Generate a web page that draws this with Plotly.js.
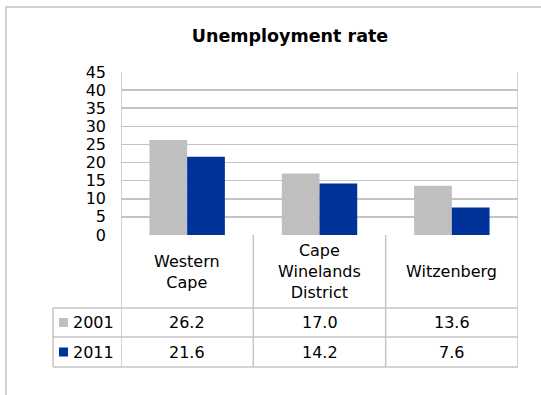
<!DOCTYPE html>
<html>
<head>
<meta charset="utf-8">
<script src="https://cdn.plot.ly/plotly-3.0.1.min.js"></script>
<style>html,body{margin:0;padding:0;background:#fff;}#chart{width:541px;height:395px;}</style>
</head>
<body>
<div id="chart"></div>
<script>
// ---- data ----
var categories = ["Western Cape", "Cape Winelands District", "Witzenberg"];
var categoryLabels = ["Western<br>Cape", "Cape<br>Winelands<br>District", "Witzenberg"];
var seriesNames = ["2001", "2011"];
var values2001 = [26.2, 17.0, 13.6];
var values2011 = [21.6, 14.2, 7.6];
var yTicks = [0, 5, 10, 15, 20, 25, 30, 35, 40, 45];

(function () {
// ---- layout geometry (pixels) ----
var W = 541, H = 395;
var L = 121, R = 518, T = 72, B = 235;
var colors = ["#BFBFBF", "#003399"];
var lineCol = "#C4C4C4";
var font = "DejaVu Sans, Arial, sans-serif";

function px(xp) { return (xp - L) / (R - L); }
function py(yp) { return (B - yp) / (B - T); }

var seriesValues = [values2001, values2011];
var traces = seriesNames.map(function (name, i) {
  return {
    type: "bar",
    name: name,
    x: categories,
    y: seriesValues[i],
    marker: { color: colors[i], line: { width: 0 } },
    hoverinfo: "skip"
  };
});

// table geometry
var headerBottom = 308, row1Bottom = 337, row2Bottom = 367, legendLeft = 53;
var rowCenters = [(headerBottom + row1Bottom) / 2, (row1Bottom + row2Bottom) / 2];
var lineStyle = { color: lineCol, width: 1.5 };
var shapes = [];
// outer chart frame
shapes.push({ type: "rect", xref: "paper", yref: "paper", x0: px(6), x1: px(560), y0: py(420), y1: py(7),
  line: { color: "#D0D0D0", width: 2 }, layer: "below" });
// vertical column borders
for (var k = 0; k <= categories.length; k++) {
  var yTop = (k === 0 || k === categories.length) ? 1 : 0;
  shapes.push({ type: "line", xref: "x", yref: "paper", x0: k - 0.5, x1: k - 0.5, y0: yTop, y1: py(row2Bottom), line: lineStyle });
}
// legend column left border
shapes.push({ type: "line", xref: "paper", yref: "paper", x0: px(legendLeft), x1: px(legendLeft), y0: py(headerBottom), y1: py(row2Bottom), line: lineStyle });
// horizontal row borders
[headerBottom, row1Bottom, row2Bottom].forEach(function (yy) {
  shapes.push({ type: "line", xref: "paper", yref: "paper", x0: px(legendLeft), x1: 1, y0: py(yy), y1: py(yy), line: lineStyle });
});
// legend swatches
rowCenters.forEach(function (c, i) {
  shapes.push({ type: "rect", xref: "paper", yref: "paper", x0: px(59), x1: px(68), y0: py(c - 4.5), y1: py(c + 4.5),
    fillcolor: colors[i], line: { width: 0 } });
});

var annotations = [];
var tfont = { family: font, size: 16, color: "#000" };
categories.forEach(function (cat, j) {
  annotations.push({ xref: "x", yref: "paper", x: j, y: py((B + headerBottom) / 2), text: categoryLabels[j],
    showarrow: false, xanchor: "center", yanchor: "middle", align: "center", font: tfont });
  seriesValues.forEach(function (vals, i) {
    annotations.push({ xref: "x", yref: "paper", x: j, y: py(rowCenters[i]), text: vals[j].toFixed(1),
      showarrow: false, xanchor: "center", yanchor: "middle", font: tfont });
  });
});
seriesNames.forEach(function (name, i) {
  annotations.push({ xref: "paper", yref: "paper", x: px(71), y: py(rowCenters[i]), text: name,
    showarrow: false, xanchor: "left", yanchor: "middle", font: tfont });
});

var layout = {
  width: W, height: H,
  margin: { l: L, r: W - R, t: T, b: H - B, pad: 0 },
  paper_bgcolor: "#fff", plot_bgcolor: "#fff",
  showlegend: false,
  barmode: "group", bargap: 0.43, bargroupgap: 0,
  title: { text: "<b>Unemployment rate</b>", font: { family: font, size: 17.5, color: "#000" },
    xref: "container", yref: "container", x: 290 / W, y: 1 - 36 / H, xanchor: "center", yanchor: "middle" },
  xaxis: { type: "category", range: [-0.5, 2.5], showticklabels: false, showgrid: false, zeroline: false, showline: false, fixedrange: true },
  yaxis: { range: [0, 45], tickvals: yTicks, ticktext: yTicks.map(String), showgrid: true, gridcolor: lineCol, gridwidth: 1.5,
    zeroline: false, showline: false, ticks: "", ticklabelstandoff: 14,
    tickfont: { family: font, size: 16, color: "#000" }, fixedrange: true },
  shapes: shapes,
  annotations: annotations
};

Plotly.newPlot("chart", traces, layout, { displayModeBar: false, staticPlot: true });
})();
</script>
</body>
</html>
